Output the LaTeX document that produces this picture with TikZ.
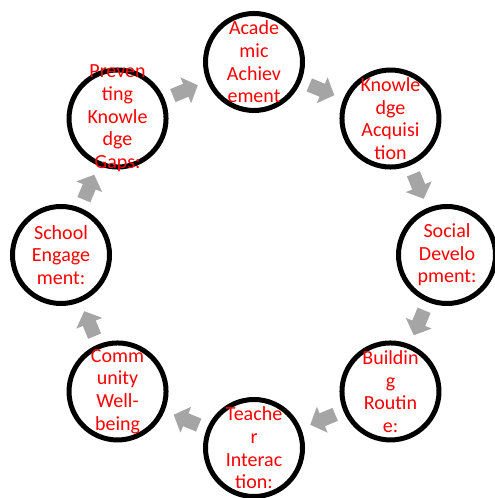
\documentclass[tikz,border=0pt]{standalone}
\usepackage{fontspec}
\setmainfont{Carlito}
\usetikzlibrary{calc}
\definecolor{arrowgray}{HTML}{A5A5A5}
\tikzset{
  ring/.style={circle, draw=black, line width=3.75pt, minimum size=72.75pt, inner sep=0pt},
  ringtext/.style={text=red, align=center, inner sep=0pt, font=\fontsize{15}{17}\selectfont},
  blockarrow/.pic={\fill[arrowgray] (-14,-7) -- (0,-7) -- (0,-14) -- (13,0) -- (0,14) -- (0,7) -- (-14,7) -- cycle;}
}
\begin{document}
\begin{tikzpicture}[x=0.75pt,y=0.75pt]
\useasboundingbox (0,0) rectangle (494,498);
\coordinate (C) at (254,243);
\foreach \n/\ang in {a1/90,a2/45,a3/0,a4/-45,a5/-90,a6/-135,a7/180,a8/135}{
  \node[ring] (\n) at ($(C)+(\ang:193)$) {};
}
\node[ringtext] (t1) at (a1.center) {Acade\\mic\\Achiev\\ement};
\node[ringtext] (t2) at (a2.center) {Knowle\\dge\\Acquisi\\tion};
\node[ringtext] (t3) at (a3.center) {Social\\Develo\\pment:};
\node[ringtext] (t4) at (a4.center) {Buildin\\g\\Routin\\e:};
\node[ringtext] (t5) at (a5.center) {Teache\\r\\Interac\\tion:};
\node[ringtext] (t6) at (a6.center) {Comm\\unity\\Well-\\being};
\node[ringtext] (t7) at (a7.center) {School\\Engage\\ment:};
\node[ringtext] (t8) at (a8.center) {Preven\\ting\\Knowle\\dge\\Gaps:};
\foreach \p/\q/\ang in {a1/a2/67.5,a2/a3/22.5,a3/a4/-22.5,a4/a5/-67.5,a5/a6/-112.5,a6/a7/-157.5,a7/a8/157.5,a8/a1/112.5}{
  \pgfmathsetmacro{\dir}{\ang-90}
  \path ($(\p.center)!0.5!(\q.center)$) pic[rotate=\dir] {blockarrow};
}
\end{tikzpicture}
\end{document}
